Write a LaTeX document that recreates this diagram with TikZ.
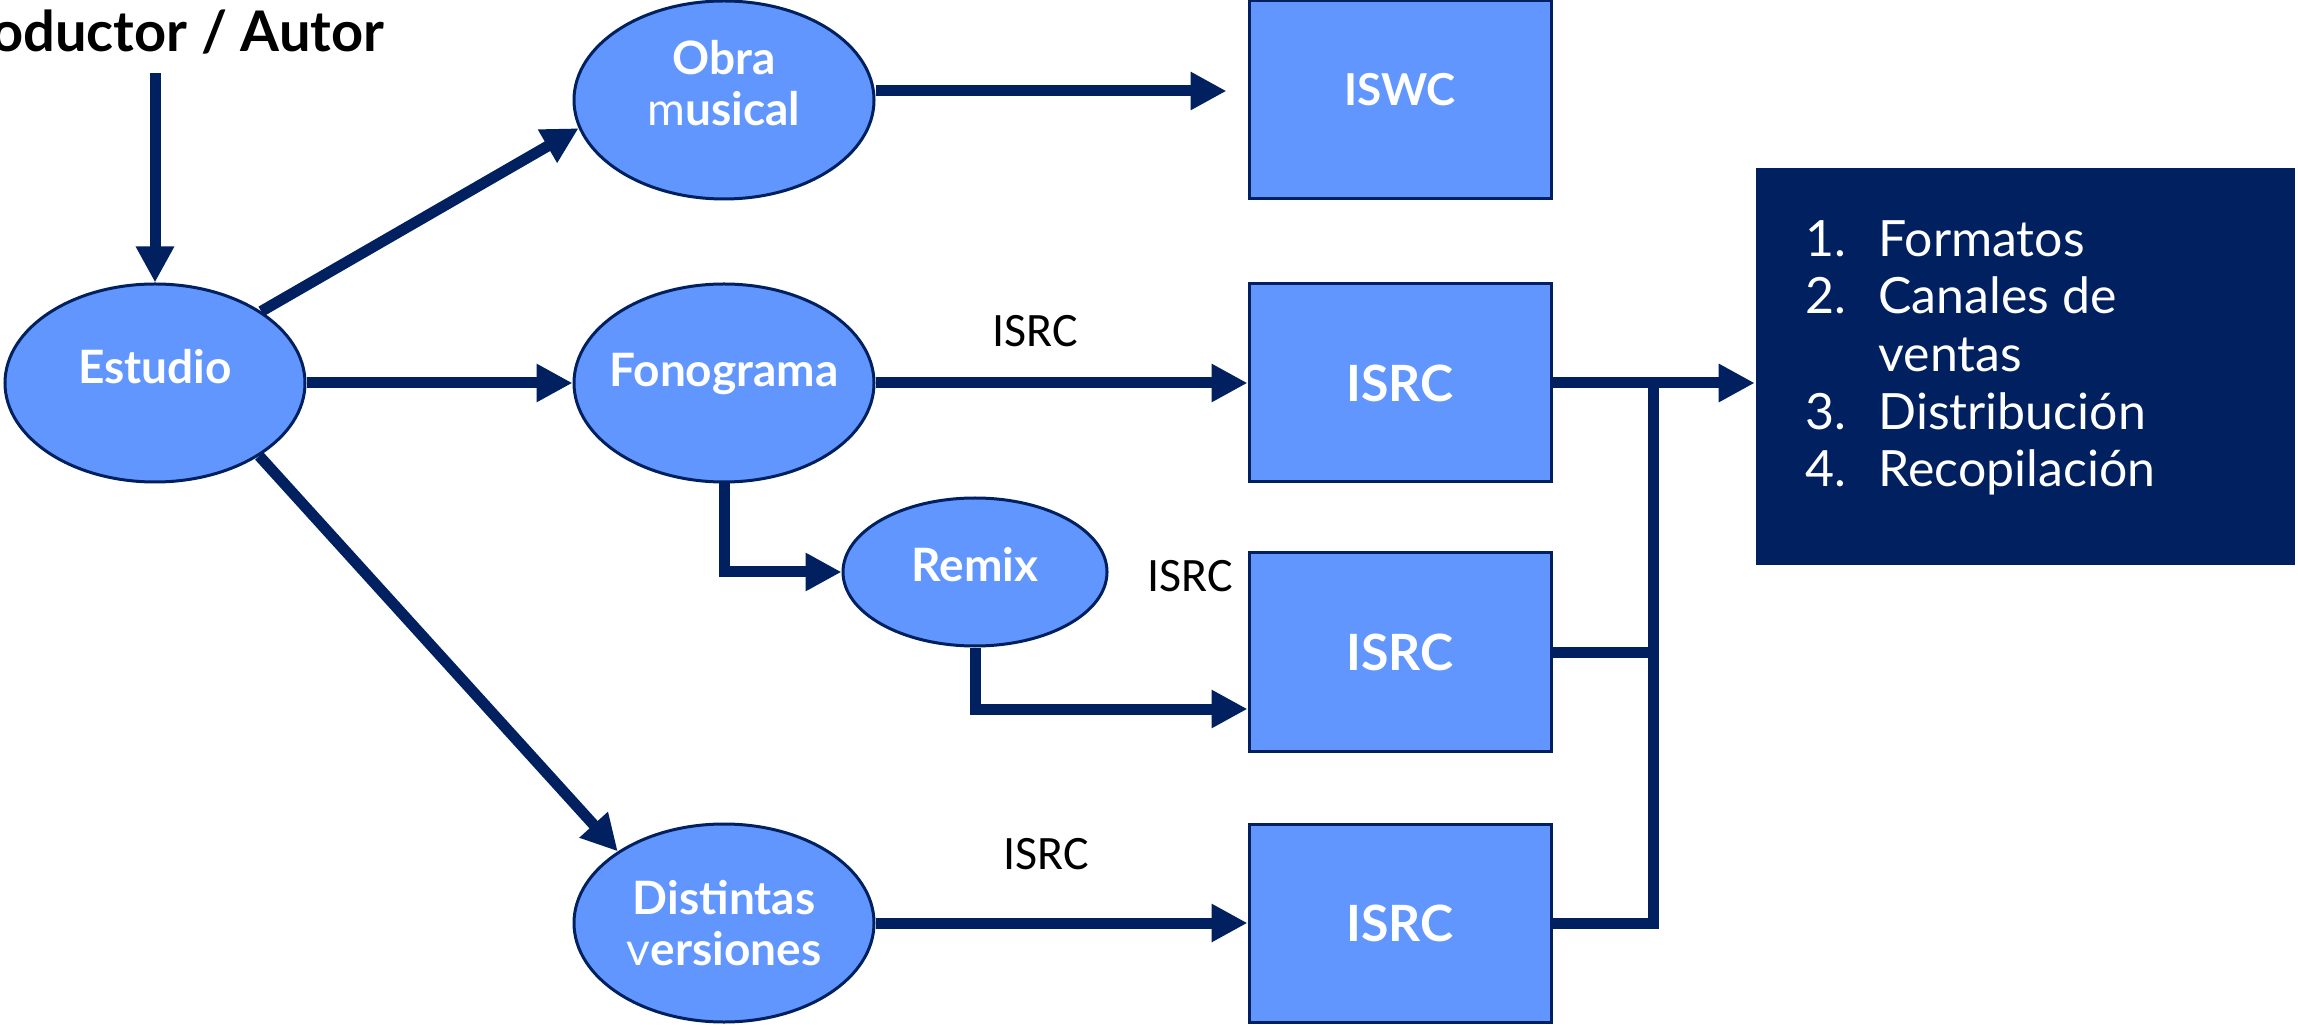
\documentclass[tikz,border=0pt]{standalone}
\usepackage{fontspec}
\setmainfont{Lato}
\newfontfamily\labelfont{Carlito}
\usetikzlibrary{arrows.meta,shapes.geometric,positioning}
\definecolor{navy}{RGB}{0,32,96}
\definecolor{skyblue}{RGB}{97,150,255}

\tikzset{
  oval/.style={ellipse, draw=navy, line width=0.75pt, fill=skyblue, text=white,
    font=\fontsize{11.5}{12.75}\selectfont\bfseries, align=center,
    minimum width=75pt, minimum height=49.5pt, inner xsep=-6pt, inner ysep=0pt},
  small oval/.style={oval, minimum width=66pt, minimum height=37pt},
  lift/.style={text height=7.5pt, text depth=#1},
  codebox/.style={rectangle, draw=navy, line width=0.75pt, fill=skyblue, text=white,
    font=\fontsize{12.5}{14}\selectfont\bfseries,
    minimum width=75.5pt, minimum height=49.5pt},
  outbox/.style={rectangle, fill=navy, minimum width=134.75pt, minimum height=99.25pt},
  codelabel/.style={font=\labelfont\fontsize{12}{14}\selectfont, text=black, inner sep=0pt},
  arr/.style={draw=navy, line width=2.75pt, -{Triangle[length=9pt,width=9pt]}},
  link/.style={draw=navy, line width=2.75pt},
}

\begin{document}
\begin{tikzpicture}[x=0.25pt,y=-0.25pt]
    \useasboundingbox (0,0) rectangle (2298,1025);

    % Sources
    \node[anchor=east, inner sep=0pt, font=\fontsize{14}{16}\selectfont\bfseries] (author) at (385,32) {Productor / Autor};
    \node[oval, lift=7.1pt] (estudio) at (155,383) {Estudio};

    % Products
    \node[oval, text height=20.65pt, text depth=7.85pt] (obra) at (724,100) {Obra\\{\mdseries m}usical};
    \node[oval, lift=5.8pt] (fonograma) at (724,383) {Fonograma};
    \node[small oval, lift=2.9pt] (remix) at (975,572) {Remix};
    \node[oval] (versiones) at (724,923) {Distintas\\{\mdseries v}ersiones};

    % Codes
    \node[codebox, font=\fontsize{11}{13}\selectfont\bfseries, lift=4.6pt] (iswc) at (1400,100) {ISWC};
    \node[codebox] (isrcfono) at (1400,383) {ISRC};
    \node[codebox] (isrcremix) at (1400,652) {ISRC};
    \node[codebox] (isrcversion) at (1400,923) {ISRC};

    \node[codelabel] (labelfono) at (1035,331) {ISRC};
    \node[codelabel] (labelremix) at (1190,576) {ISRC};
    \node[codelabel] (labelversion) at (1046,854) {ISRC};

    % Uses
    \node[outbox] (uses) at (2025,367) {};
    \node[anchor=west, inner sep=0pt, text=white, font=\fontsize{12.5}{14.4}\selectfont]
        (usesitems) at ([xshift=12.5pt,yshift=1.75pt]uses.west)
        {\begin{tabular}{@{}p{18.25pt}@{}l@{}}
            1. & Formatos\\
            2. & Canales de\\
               & ventas\\
            3. & Distribución\\
            4. & Recopilación
        \end{tabular}};

    % Arrows
    \coordinate (authorfoot) at (155,73);
    \draw[arr] (authorfoot) -- (estudio.north);
    \draw[arr] (estudio.34) -- (obra.191);
    \draw[arr] (estudio) -- (fonograma);
    \draw[arr] (estudio.-35) -- (versiones.146);

    \draw[arr] ([yshift=2.25pt]obra.east) -- ([xshift=-5.25pt,yshift=2.25pt]iswc.west);
    \draw[arr] (fonograma) -- (isrcfono);
    \draw[arr] (fonograma.south) |- (remix.west);
    \draw[arr] (remix.south) |- ([yshift=-14.25pt]isrcremix.west);
    \draw[arr] (versiones) -- (isrcversion);

    % Bus to the uses
    \coordinate (bus) at (1653,383);
    \draw[arr] (isrcfono) -- (isrcfono -| uses.west);
    \draw[link] (isrcremix.east) -- (isrcremix.east -| bus);
    \draw[link] (isrcversion.east) -| (bus);

\end{tikzpicture}
\end{document}
